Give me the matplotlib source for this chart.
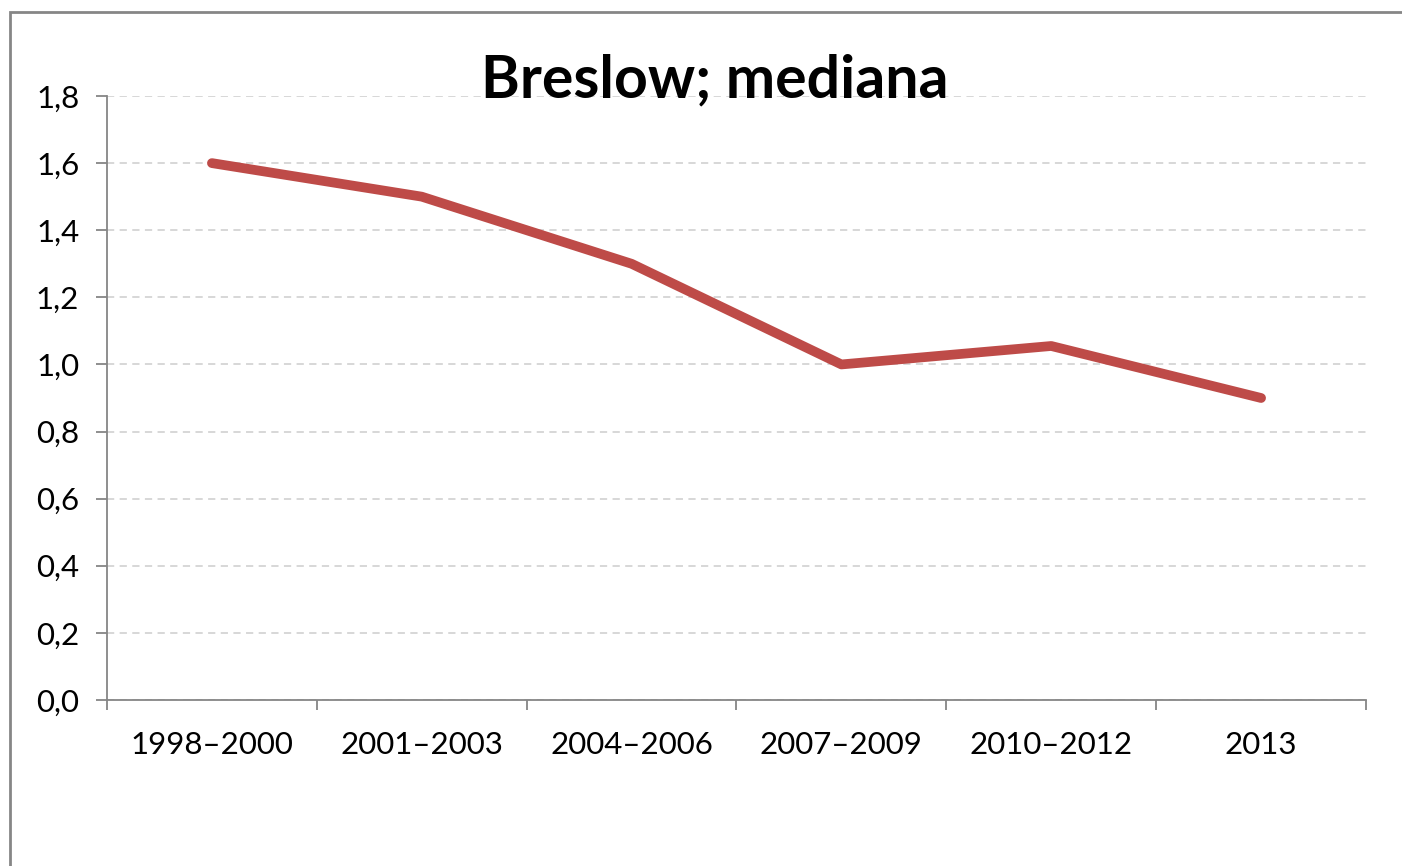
import matplotlib
matplotlib.use("Agg")
import matplotlib.pyplot as plt
from matplotlib.patches import Rectangle

# data
categories = ["1998–2000", "2001–2003", "2004–2006", "2007–2009", "2010–2012", "2013"]
median_breslow = [1.6, 1.5, 1.3, 1.0, 1.055, 0.9]
y_ticks = [0.0, 0.2, 0.4, 0.6, 0.8, 1.0, 1.2, 1.4, 1.6, 1.8]

plt.rcParams['font.family'] = ['Lato', 'DejaVu Sans']

W, H = 1402, 866
fig = plt.figure(figsize=(W / 100, H / 100), dpi=100)
fig.patch.set_facecolor("white")

# outer chart frame (Excel style)
fig.add_artist(Rectangle((10 / W, -0.05), 1.2, 1 - 12 / H + 0.05,
                         transform=fig.transFigure, fill=False,
                         edgecolor="#868686", linewidth=2))

ax = fig.add_axes([107 / W, 1 - 700 / H, (1366 - 107) / W, (700 - 96) / H])

x = list(range(len(categories)))
ax.plot(x, median_breslow, color="#BE4B48", linewidth=7, solid_capstyle="round",
        solid_joinstyle="round", zorder=3)

ax.set_xlim(-0.5, len(categories) - 0.5)
ax.set_ylim(0, 1.8)
ax.set_yticks(y_ticks)
ax.set_yticklabels([f"{v:.1f}".replace(".", ",") for v in y_ticks], fontsize=22.5)
ax.set_xticks(x)
ax.set_xticklabels(categories, fontsize=22.5)
ax.set_xticks([i - 0.5 for i in range(len(categories) + 1)], minor=True)

ax.tick_params(axis="x", which="major", length=0, pad=22)
ax.tick_params(axis="x", which="minor", length=7, color="#868686", width=1.3, direction="out")
ax.tick_params(axis="y", length=8, color="#868686", width=1.3, direction="out", pad=12)

ax.yaxis.grid(True, color="#D4D4D4", linestyle=(0, (4, 3)), linewidth=1.3)
ax.set_axisbelow(True)
for s in ["top", "right"]:
    ax.spines[s].set_visible(False)
for s in ["left", "bottom"]:
    ax.spines[s].set_color("#868686")
    ax.spines[s].set_linewidth(1.3)

fig.text(715 / W, 1 - 80 / H, "Breslow; mediana", fontsize=42.5, fontweight="bold",
         ha="center", va="center")

fig.savefig("out.png", dpi=100)
